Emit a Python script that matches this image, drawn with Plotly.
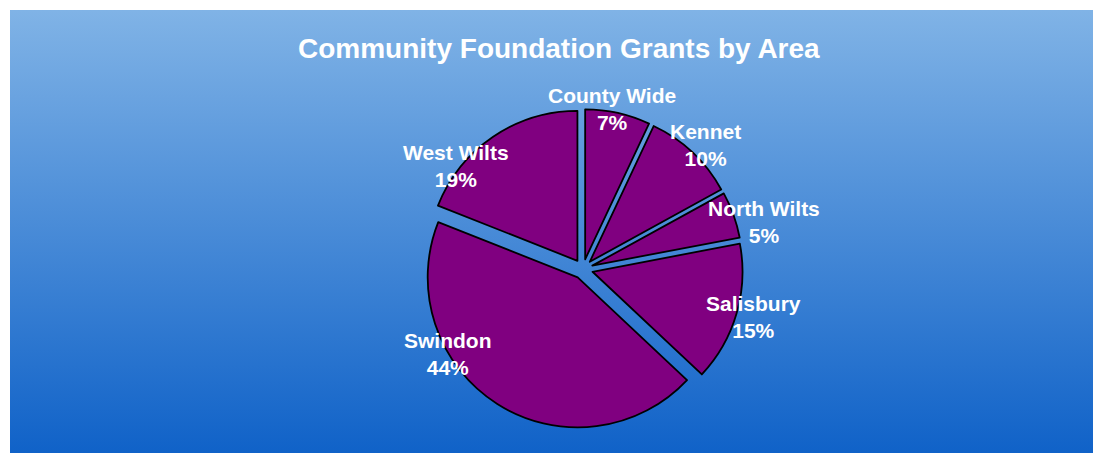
import plotly.graph_objects as go

# ---- data ----
areas = ["County Wide", "Kennet", "North Wilts", "Salisbury", "Swindon", "West Wilts"]
shares = [7, 10, 5, 15, 44, 19]
title_text = "Community Foundation Grants by Area"

# ---- geometry (screen pixels of the 1093x453 window) ----
W, H = 1093, 453
FONT = "Liberation Sans, Arial, sans-serif"
PURPLE = "#800080"
TOP_BLUE = "#80B3E6"
BOTTOM_BLUE = "#1062C8"

panel_left, panel_top = 10, 10
# label centres (screen pixels) for each area, same order as areas
label_pos = [(612, 109), (705, 145), (764, 222), (753, 317), (448, 354), (456, 166)]
title_pos = (558.5, 48)

pie_cx, pie_cy = 583, 269       # pie centre (screen pixels)
pie_r = 150                     # pie radius in pixels
pull = 0.066
box = 2 * pie_r * (1 + pull)


def fy(py):
    return H - py


total = sum(shares)
pct = [round(v / total * 100) for v in shares]

fig = go.Figure()

# gradient background panel
x0, x1 = panel_left, W
y0, y1 = fy(H), fy(panel_top)
fig.add_trace(go.Scatter(
    x=[x0, x1, x1, x0, x0], y=[y0, y0, y1, y1, y0],
    mode="lines", fill="toself", line=dict(width=0),
    fillgradient=dict(type="vertical", start=y0, stop=y1,
                      colorscale=[[0, BOTTOM_BLUE], [1, TOP_BLUE]]),
    hoverinfo="skip", showlegend=False,
))

cxf = pie_cx / W
cyf = fy(pie_cy) / H
fig.add_trace(go.Pie(
    labels=areas, values=shares, sort=False, direction="clockwise", rotation=0,
    pull=[pull] * len(areas),
    marker=dict(colors=[PURPLE] * len(areas), line=dict(color="black", width=1.8)),
    textinfo="none", hoverinfo="label+percent", showlegend=False,
    domain=dict(x=[cxf - 0.3, cxf + 0.3], y=[cyf - box / 2 / H, cyf + box / 2 / H]),
))

for name, p, (lx, ly) in zip(areas, pct, label_pos):
    fig.add_annotation(
        x=lx, y=fy(ly), xref="x", yref="y", text=f"<b>{name}<br>{p}%</b>",
        showarrow=False, xanchor="center", yanchor="middle",
        font=dict(family=FONT, size=21, color="white"),
    )

fig.add_annotation(
    x=title_pos[0], y=fy(title_pos[1]), xref="x", yref="y", text=f"<b>{title_text}</b>",
    showarrow=False, xanchor="center", yanchor="middle",
    font=dict(family=FONT, size=28, color="white"),
)

fig.update_layout(
    width=W, height=H, margin=dict(l=0, r=0, t=0, b=0),
    paper_bgcolor="white", plot_bgcolor="rgba(0,0,0,0)",
    xaxis=dict(range=[0, W], visible=False, fixedrange=True),
    yaxis=dict(range=[0, H], visible=False, fixedrange=True),
)

fig.write_html(
    "out.html",
    config={"displayModeBar": False},
    post_script="document.body.style.margin='0';document.body.style.overflow='hidden';",
)
